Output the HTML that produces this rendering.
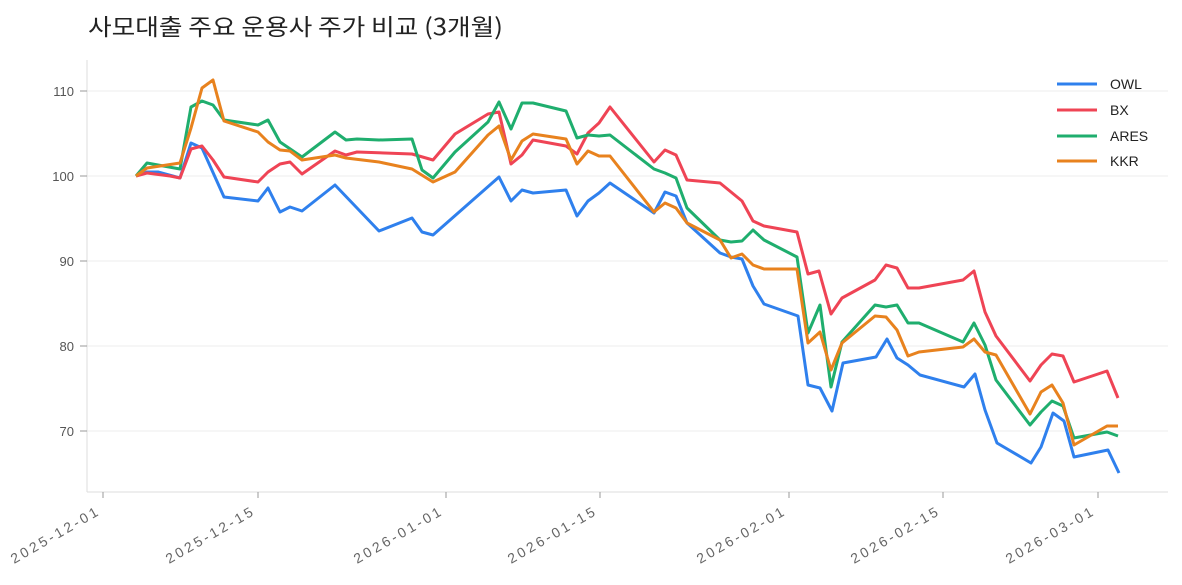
<!DOCTYPE html>
<html><head><meta charset="utf-8"><style>
body{margin:0;background:#fff;}
svg{display:block;font-family:"Liberation Sans","Noto Sans CJK KR",sans-serif;}
</style></head><body>
<svg width="1182" height="585" viewBox="0 0 1182 585">
<text x="88" y="35" font-size="23" fill="#222" textLength="415" lengthAdjust="spacingAndGlyphs" style="font-family:'Noto Sans CJK KR','Liberation Sans',sans-serif">사모대출 주요 운용사 주가 비교 (3개월)</text>
<g stroke="#eeeeee" stroke-width="1">
<line x1="87" x2="1168" y1="91" y2="91"/><line x1="87" x2="1168" y1="176" y2="176"/>
<line x1="87" x2="1168" y1="261" y2="261"/><line x1="87" x2="1168" y1="346" y2="346"/>
<line x1="87" x2="1168" y1="431" y2="431"/>
</g>
<g stroke="#ddd" stroke-width="1"><line x1="87" x2="87" y1="60" y2="492"/><line x1="87" x2="1168" y1="492" y2="492"/></g>
<g stroke="#999" stroke-width="1">
<line x1="80" x2="87" y1="91" y2="91"/><line x1="80" x2="87" y1="176" y2="176"/><line x1="80" x2="87" y1="261" y2="261"/><line x1="80" x2="87" y1="346" y2="346"/><line x1="80" x2="87" y1="431" y2="431"/>
<line x1="103" x2="103" y1="492" y2="498"/><line x1="258" x2="258" y1="492" y2="498"/><line x1="446" x2="446" y1="492" y2="498"/><line x1="600" x2="600" y1="492" y2="498"/><line x1="789" x2="789" y1="492" y2="498"/><line x1="943" x2="943" y1="492" y2="498"/><line x1="1098" x2="1098" y1="492" y2="498"/>
</g>
<g font-size="13" fill="#555" text-anchor="end">
<text x="74" y="96">110</text><text x="74" y="181">100</text><text x="74" y="266">90</text><text x="74" y="351">80</text><text x="74" y="436">70</text>
</g>
<g font-size="14" fill="#666" text-anchor="end">
<text transform="translate(99,515) rotate(-30)" textLength="98" lengthAdjust="spacing">2025-12-01</text>
<text transform="translate(254,515) rotate(-30)" textLength="98" lengthAdjust="spacing">2025-12-15</text>
<text transform="translate(442,515) rotate(-30)" textLength="98" lengthAdjust="spacing">2026-01-01</text>
<text transform="translate(596,515) rotate(-30)" textLength="98" lengthAdjust="spacing">2026-01-15</text>
<text transform="translate(785,515) rotate(-30)" textLength="98" lengthAdjust="spacing">2026-02-01</text>
<text transform="translate(939,515) rotate(-30)" textLength="98" lengthAdjust="spacing">2026-02-15</text>
<text transform="translate(1094,515) rotate(-30)" textLength="98" lengthAdjust="spacing">2026-03-01</text>
</g>
<g fill="none" stroke-width="3" stroke-linejoin="round">
<polyline stroke="#2f80ed" points="136,176 147,172 158,172 180,178 191,143 202,148 224,197 258,201 268,188 280,212 290,207 302,211 335,185 379,231 412,218 422,232 433,235 499,177 511,201 522,190 533,193 566,190 577,216 588,201 599,193 610,183 654,213 665,192 676,196 687,223 720,253 731,257 742,259 753,286 764,304 798,316 808,385 820,388 832,411 843,363 876,357 887,339 897,358 908,365 920,375 964,387 975,374 985,410 997,443 1031,463 1041,447 1053,413 1064,421 1074,457 1108,450 1119,473"/>
<polyline stroke="#ef4455" points="136,176 147,173 170,176 180,178 191,149 202,146 213,160 224,177 258,182 268,172 280,164 290,162 302,174 335,151 346,155 357,152 412,154 433,160 455,134 488,114 499,112 511,164 522,155 533,140 566,146 577,154 588,133 599,123 610,107 654,162 665,150 676,155 687,180 720,183 742,201 753,221 764,226 797,232 808,274 819,271 831,314 842,298 875,280 886,265 897,268 908,288 919,288 963,280 974,271 985,312 996,336 1030,381 1041,365 1052,354 1063,356 1074,382 1107,371 1118,398"/>
<polyline stroke="#1fae6e" points="136,176 147,163 180,169 191,107 202,101 213,105 224,120 258,125 268,120 280,142 302,157 335,132 346,140 357,139 379,140 412,139 422,170 433,178 455,152 488,122 499,102 511,129 522,103 533,103 566,111 577,138 588,135 599,136 610,135 654,169 665,173 676,178 687,208 720,240 731,242 742,241 753,230 764,240 797,257 808,333 820,305 831,387 842,342 875,305 886,307 897,305 908,323 919,323 963,342 974,323 985,345 996,380 1030,425 1041,412 1052,401 1063,406 1074,438 1107,432 1118,436"/>
<polyline stroke="#e8821e" points="136,176 147,168 180,163 191,128 202,88 213,80 224,121 258,132 268,142 280,150 290,151 302,160 335,155 346,158 379,162 412,169 433,182 455,172 488,135 499,126 511,160 522,141 533,134 566,139 577,164 588,151 599,156 610,156 654,212 665,203 676,208 687,223 720,240 731,258 742,254 753,265 764,269 797,269 808,343 820,332 831,370 842,343 875,316 886,317 897,330 908,356 919,352 963,347 974,339 985,352 996,355 1030,414 1041,392 1052,385 1063,403 1074,445 1107,426 1118,426"/>
</g>
<g stroke-width="3">
<line x1="1057" x2="1097" y1="84" y2="84" stroke="#2f80ed"/>
<line x1="1057" x2="1097" y1="110" y2="110" stroke="#ef4455"/>
<line x1="1057" x2="1097" y1="136" y2="136" stroke="#1fae6e"/>
<line x1="1057" x2="1097" y1="161" y2="161" stroke="#e8821e"/>
</g>
<g font-size="14" fill="#222">
<text x="1110" y="89">OWL</text><text x="1110" y="115">BX</text><text x="1110" y="141">ARES</text><text x="1110" y="166">KKR</text>
</g>
</svg>
</body></html>
